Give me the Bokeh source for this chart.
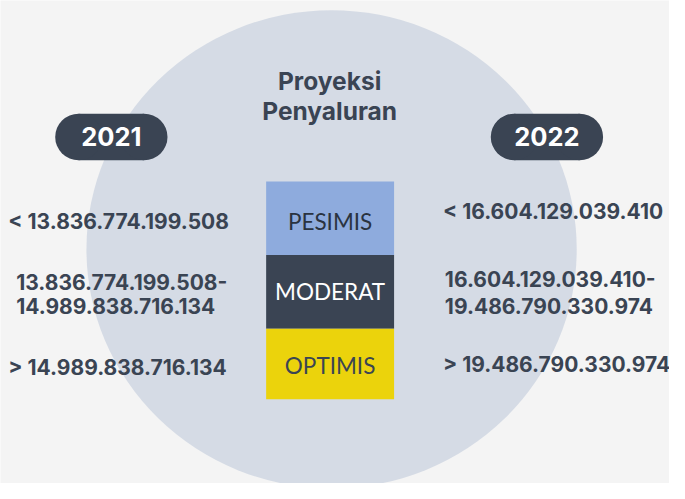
from bokeh.plotting import figure
from bokeh.models import Range1d
from bokeh.core.properties import value
from bokeh.embed import file_html
from bokeh.resources import INLINE

# ---- data ----
title_lines = ["Proyeksi", "Penyaluran"]
years = ["2021", "2022"]
scenarios = ["PESIMIS", "MODERAT", "OPTIMIS"]
ranges_2021 = ["< 13.836.774.199.508", "13.836.774.199.508-\n14.989.838.716.134", "> 14.989.838.716.134"]
ranges_2022 = ["< 16.604.129.039.410", "16.604.129.039.410-\n19.486.790.330.974", "> 19.486.790.330.974"]

# ---- styles / layout ----
BG = "#f4f4f4"
CIRCLE = "#d5dbe5"
DARK = "#3a4453"
box_colors = ["#8eabdd", "#3a4453", "#ebd30c"]
box_text_colors = ["#2a3340", "#ffffff", "#3a4553"]
FONT = "Inter"

W, H = 669, 483
p = figure(width=W, height=H, output_backend="svg", toolbar_location=None,
           x_range=Range1d(0, 685), y_range=Range1d(499, 0),
           min_border=0, background_fill_color=BG, border_fill_color=BG)
p.axis.visible = False
p.grid.visible = False
p.outline_line_color = None

# big circle
p.ellipse(x=[339], y=[257], width=[502], height=[494], fill_color=CIRCLE, line_color=None)

# title
p.text(x=[337, 337], y=[83, 114], text=title_lines, text_align="center", text_baseline="middle",
       text_font=value(FONT), text_font_style="bold", text_font_size="24.5px", text_color=DARK)

# year pills
pill_x = [113.5, 559.5]
pill_y = [141, 141]
pill_w, pill_h = 115, 48
p.rect(x=pill_x, y=pill_y, width=pill_w - pill_h, height=pill_h, fill_color=DARK, line_color=None)
p.ellipse(x=[px - (pill_w - pill_h) / 2 for px in pill_x], y=pill_y, width=pill_h, height=pill_h,
          fill_color=DARK, line_color=None)
p.ellipse(x=[px + (pill_w - pill_h) / 2 for px in pill_x], y=pill_y, width=pill_h, height=pill_h,
          fill_color=DARK, line_color=None)
p.text(x=pill_x, y=pill_y, text=years, text_align="center", text_baseline="middle",
       text_font=value(FONT), text_font_style="bold", text_font_size="25.5px", text_color="#ffffff")

# scenario boxes
box_top = [187, 263, 339]
box_bot = [263, 339, 412]
p.quad(left=[272] * 3, right=[403] * 3, top=box_top, bottom=box_bot,
       fill_color=box_colors, line_color=None)
p.text(x=[337.5] * 3, y=[228, 301, 377], text=scenarios, text_align="center", text_baseline="middle",
       text_font=value("Lato"), text_font_size="22.5px", text_color=box_text_colors)

# range labels
def range_lines(labels, x_single, x_multi, ys, gap):
    X, Y, T = [], [], []
    for lab, y in zip(labels, ys):
        parts = lab.split("\n")
        if len(parts) == 1:
            X.append(x_single); Y.append(y); T.append(parts[0])
        else:
            for k, part in enumerate(parts):
                X.append(x_multi); Y.append(y + (k - 0.5) * gap); T.append(part)
    return X, Y, T

x1, y1, t1 = range_lines(ranges_2021, 8, 16, [228, 303, 379], 25)
x2, y2, t2 = range_lines(ranges_2022, 453, 455, [218, 301.5, 376], 28)
p.text(x=x1 + x2, y=y1 + y2, text=t1 + t2, text_align="left", text_baseline="middle",
       text_font=value(FONT), text_font_style="bold", text_font_size="21px", text_color=DARK)

open("out.html", "w").write(file_html(p, INLINE))
